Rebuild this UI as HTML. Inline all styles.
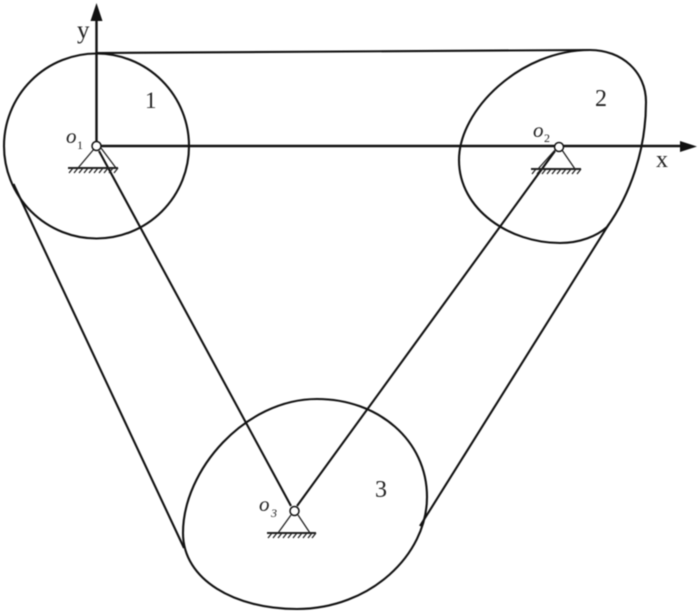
<!DOCTYPE html>
<html>
<head>
<meta charset="utf-8">
<style>
html,body{margin:0;padding:0;background:#fff;width:700px;height:614px;overflow:hidden}
svg{display:block;filter:blur(.4px)}
text{font-family:"Liberation Serif",serif;fill:#222}
</style>
</head>
<body>
<svg width="700" height="614" viewBox="0 0 700 614" xmlns="http://www.w3.org/2000/svg">
<g fill="none" stroke="#111" stroke-width="2.1" stroke-linecap="butt" stroke-linejoin="round">
  <circle cx="96.5" cy="146" r="92.5"/>
  <path d="M590 50 C622 50 646 72 646 102 C646 150 630 195 607 227 C597 236 580 243 560 243 C510 243 459 210 459 160 C459 110 520 50 590 50 Z"/>
  <path d="M317 399 C378 399 427 440 427 497 C427 555 370 609 297 609 C235 609 183 580 183 533 C183 470 245 399 317 399 Z"/>
  <path d="M96 53 L590 50"/>
  <path d="M13.500 184 L184 548"/>
  <path d="M609 224 L420 526"/>
  <path d="M99 151 L291 506"/>
  <path d="M555 151 L297 506"/>
</g>
<g fill="none" stroke="#111" stroke-width="2.4">
  <path d="M96.500 146 V18"/>
  <path d="M96.500 146 H682"/>
</g>
<path d="M96.500 3 L90.500 21 H102.500 Z" fill="#111"/>
<path d="M697 146.500 L680 141 V152 Z" fill="#111"/>

<g fill="none" stroke="#222" stroke-width="1.3">
  <path d="M94 149 L78 168 M101 148 L116 168"/>
  <path d="M68 168 H118" stroke-width="2"/>
  <path d="M555 150 L538 169 M562 150 L575 169"/>
  <path d="M531 169 H581" stroke-width="2"/>
  <path d="M291 515 L278 533 M298 515 L310 533"/>
  <path d="M267 533 H316" stroke-width="2"/>
</g>
<g stroke="#222" stroke-width="1.3" fill="none">
  <path d="M73 168l-4 5M78 168l-4 5M83 168l-4 5M88 168l-4 5M93 168l-4 5M98 168l-4 5M103 168l-4 5M108 168l-4 5M113 168l-4 5M118 168l-4 5"/>
  <path d="M536 169l-4 5M541 169l-4 5M546 169l-4 5M551 169l-4 5M556 169l-4 5M561 169l-4 5M566 169l-4 5M571 169l-4 5M576 169l-4 5M581 169l-4 5"/>
  <path d="M272 533l-4 5M277 533l-4 5M282 533l-4 5M287 533l-4 5M292 533l-4 5M297 533l-4 5M302 533l-4 5M307 533l-4 5M312 533l-4 5M316 533l-4 5"/>
</g>
<g fill="#fff" stroke="#111" stroke-width="1.5">
  <circle cx="96.500" cy="146" r="4.500"/>
  <circle cx="559" cy="147" r="4.500"/>
  <circle cx="294.500" cy="511" r="4.500"/>
</g>

<text x="77" y="38" font-size="25">y</text>
<text x="656" y="167" font-size="24">x</text>
<text x="145" y="108" font-size="23">1</text>
<text x="595" y="106" font-size="24">2</text>
<text x="375" y="497" font-size="24">3</text>
<text x="66" y="143" font-size="21" font-style="italic">o</text>
<text x="77" y="149" font-size="12">1</text>
<text x="533" y="137" font-size="21" font-style="italic">o</text>
<text x="544" y="142" font-size="12">2</text>
<text x="259" y="511" font-size="21" font-style="italic">o</text>
<text x="271" y="517" font-size="12" font-style="italic">3</text>
</svg>
</body>
</html>
